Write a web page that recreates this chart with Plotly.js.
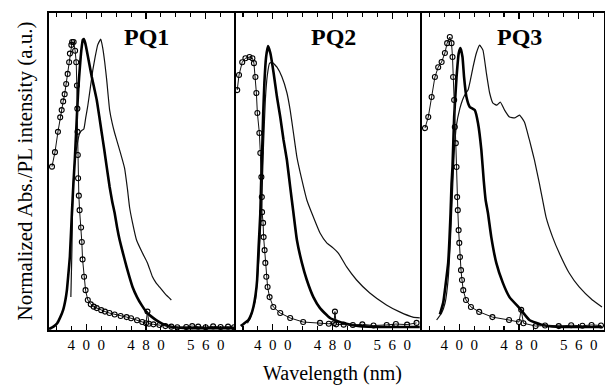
<!DOCTYPE html>
<html>
<head>
<meta charset="utf-8">
<script src="https://cdn.plot.ly/plotly-3.0.1.min.js"></script>
<style>html,body{margin:0;padding:0;background:#fff;}#chart{width:605px;height:385px;}</style>
</head>
<body>
<div id="chart"></div>
<script>
// ---------- data ----------
const panelTitles = ["PQ1", "PQ2", "PQ3"];
const tickValues = [400, 480, 560];
const tickLabels = ["4\u20020\u20020", "4\u20028\u20020", "5\u20026\u20020"];
const xTitle = "Wavelength (nm)";
const yTitle = "Normalized Abs./PL intensity (a.u.)";

// PQ1
const pq1AbsNm  = [354,358,362,365,367,369,371,373,375,377,378,380,381,383,385,386.5,387.5,388,388.3,388.6,389,390,391,393,394,395,397,399,402,406,410,414,420,425,431,438,446,454,460,468,475,480,482,484,490,498,506,514,522,534,542,550,560,570,580,590,598];
const pq1AbsVal = [0.56,0.61,0.68,0.73,0.755,0.785,0.81,0.845,0.88,0.92,0.95,0.98,0.99,0.99,0.96,0.92,0.84,0.76,0.68,0.6,0.52,0.46,0.41,0.35,0.30,0.24,0.18,0.134,0.10,0.085,0.077,0.072,0.065,0.06,0.055,0.05,0.045,0.041,0.037,0.03,0.024,0.02,0.06,0.018,0.016,0.014,0.01,0.008,0.006,0.007,0.01,0.008,0.006,0.009,0.007,0.008,0.006];
const pq1SolNm  = [350,356,361,365,369,372,374,376,378,380.7,382.7,384.7,387.3,389.3,391.3,393.3,395.3,396.7,398.7,400.7,404,407.3,410.7,414,417.3,420.7,424,427.3,431.3,434.7,438,441.3,444.7,449.3,454,458,462,468,474,479.3,484.7,491.3,498,506,515.3,530,551,575,598];
const pq1SolVal = [0.0,0.008,0.02,0.04,0.066,0.1,0.134,0.19,0.25,0.40,0.50,0.59,0.73,0.83,0.90,0.96,0.997,1.0,0.985,0.96,0.915,0.87,0.83,0.79,0.735,0.676,0.62,0.56,0.49,0.44,0.40,0.35,0.307,0.26,0.214,0.178,0.145,0.11,0.083,0.063,0.048,0.035,0.024,0.014,0.007,0.004,0.003,0.003,0.003];
const pq1FilmNm  = [379.3,380.7,382,384.7,388.7,391.3,394,396.7,399.3,402,405.3,408.7,412,415.3,419.3,422,424.7,427.3,431.3,434.7,438,444.7,451.3,455.3,458,462,467.3,475.3,482,488.7,493.3,498,506,514];
const pq1FilmVal = [0.11,0.27,0.47,0.58,0.65,0.676,0.685,0.69,0.73,0.77,0.83,0.893,0.94,0.98,1.0,0.97,0.92,0.86,0.755,0.71,0.676,0.617,0.555,0.48,0.42,0.366,0.307,0.262,0.228,0.18,0.16,0.145,0.12,0.1];

// PQ2
const pq2AbsNm  = [352.3,354.7,359,363.3,368.7,372.7,374.7,376.7,378,379.3,382,383.3,384.7,385.3,385.6,387,387.7,389,390,391.3,393,395.7,400.7,410,423.3,440.7,463.3,475,482,483.3,485,495,507.3,520,535,552.7,565,580,592.7];
const pq2AbsVal = [0.824,0.876,0.92,0.934,0.938,0.934,0.917,0.869,0.814,0.745,0.676,0.607,0.524,0.455,0.403,0.366,0.317,0.272,0.228,0.18,0.145,0.11,0.076,0.055,0.038,0.024,0.021,0.018,0.02,0.06,0.016,0.015,0.014,0.016,0.012,0.014,0.017,0.015,0.021];
const pq2SolNm  = [357,362,367.3,371,374,377,379,381,383.3,384.3,385.6,387,388.7,391,393.6,396.7,401.1,405.6,410,414.4,418.9,423.3,427.7,432.3,439,445.6,454.4,463.3,476.7,494,516.7,550,597];
const pq2SolVal = [0.01,0.02,0.031,0.05,0.076,0.12,0.169,0.283,0.40,0.50,0.60,0.731,0.848,0.938,0.976,0.952,0.883,0.80,0.731,0.652,0.583,0.49,0.40,0.307,0.228,0.169,0.11,0.072,0.038,0.021,0.01,0.007,0.007];
const pq2FilmNm  = [366,370,373.5,376.7,379.5,382,385.3,387.3,390,392.7,395.7,399.3,405.6,412.3,419,423.3,427.7,432.3,439,445.6,454.4,463.3,472.3,481.1,487.8,499,512.3,530,552.3,570,587.8,597];
const pq2FilmVal = [0.02,0.038,0.07,0.1,0.18,0.27,0.445,0.617,0.79,0.876,0.917,0.92,0.903,0.869,0.814,0.755,0.676,0.593,0.514,0.445,0.386,0.331,0.297,0.279,0.262,0.214,0.169,0.124,0.083,0.059,0.041,0.038];

// PQ3
const pq3AbsNm  = [354,358.4,362.9,367.3,371.7,376.3,380.7,383.7,387.3,389.6,390.9,391.7,393.1,394,395.3,396.3,397.1,398,399.1,400,400.9,402.3,403.6,405.3,409,415.6,426.7,444.4,466.7,480,483,486,502.3,515,533.3,550,565,577.3,590];
const pq3AbsVal = [0.693,0.731,0.80,0.869,0.903,0.921,0.952,0.986,1.007,0.986,0.938,0.869,0.79,0.697,0.641,0.559,0.455,0.41,0.341,0.297,0.248,0.203,0.169,0.134,0.10,0.076,0.059,0.041,0.031,0.024,0.066,0.02,0.01,0.012,0.01,0.013,0.011,0.014,0.012];
const pq3SolNm  = [374,378.4,381.5,385.1,388.3,389.6,390.9,393.1,396.3,399.3,401.6,404.3,406.4,409.6,414,420.7,425.1,429.6,432.7,435.3,438.4,442.9,449.6,458.4,467.3,480.7,494,511.7,530,556.3,592];
const pq3SolVal = [0.05,0.09,0.15,0.228,0.40,0.50,0.559,0.731,0.869,0.952,0.969,0.938,0.869,0.80,0.766,0.755,0.71,0.617,0.514,0.445,0.40,0.317,0.228,0.159,0.11,0.072,0.031,0.014,0.008,0.007,0.007];
const pq3FilmNm  = [369.6,376.3,381,385,388,390.5,393,396,400.7,404.3,407.3,411.7,415,418.4,422.9,427.3,431.7,436.3,440.7,445.1,450.4,454.9,460.7,467.3,474,480.7,487.3,494,500.7,507.3,511.7,516.3,525.1,534,547.3,560.7,578.4,591.3];
const pq3FilmVal = [0.031,0.055,0.09,0.17,0.30,0.45,0.60,0.70,0.76,0.79,0.807,0.824,0.86,0.903,0.952,0.979,0.962,0.883,0.814,0.779,0.772,0.783,0.755,0.731,0.728,0.738,0.714,0.652,0.583,0.503,0.445,0.386,0.317,0.262,0.193,0.145,0.10,0.076];

// ---------- drawing ----------
const FONT = '"Liberation Serif", "Times New Roman", serif';
const panels = [
  {abs:[pq1AbsNm,pq1AbsVal], sol:[pq1SolNm,pq1SolVal], film:[pq1FilmNm,pq1FilmVal]},
  {abs:[pq2AbsNm,pq2AbsVal], sol:[pq2SolNm,pq2SolVal], film:[pq2FilmNm,pq2FilmVal]},
  {abs:[pq3AbsNm,pq3AbsVal], sol:[pq3SolNm,pq3SolVal], film:[pq3FilmNm,pq3FilmVal]}
];
const traces = [];
panels.forEach((p, i) => {
  const xa = i === 0 ? 'x' : 'x' + (i + 1);
  const ya = i === 0 ? 'y' : 'y' + (i + 1);
  traces.push({x: p.film[0], y: p.film[1], xaxis: xa, yaxis: ya, mode: 'lines',
    line: {color: '#111', width: 1.2, shape: 'spline', smoothing: 0.4}, hoverinfo: 'skip'});
  traces.push({x: p.sol[0], y: p.sol[1], xaxis: xa, yaxis: ya, mode: 'lines',
    line: {color: '#000', width: 2.6, shape: 'spline', smoothing: 0.4}, hoverinfo: 'skip'});
  traces.push({x: p.abs[0], y: p.abs[1], xaxis: xa, yaxis: ya, mode: 'lines+markers',
    line: {color: '#111', width: 1},
    marker: {symbol: 'circle-open', size: 5, color: '#000', line: {width: 1.1, color: '#000'}},
    hoverinfo: 'skip'});
});

function xaxis(domain, range, anchor) {
  return {
    domain: domain, range: range, anchor: anchor,
    tickvals: tickValues, ticktext: tickLabels,
    ticks: 'inside', ticklen: 6, tickwidth: 1.3, tickcolor: '#000',
    minor: {tick0: 360, dtick: 20, ticks: 'inside', ticklen: 4, tickwidth: 1.1, tickcolor: '#000', showgrid: false},
    showline: true, linecolor: '#000', linewidth: 2, mirror: 'allticks',
    showgrid: false, zeroline: false,
    ticklabelstandoff: 0,
    tickfont: {family: FONT, size: 15, color: '#000'}
  };
}
function yaxis(anchor, mirror) {
  return {
    domain: [0, 1], range: [-0.0035, 1.09], anchor: anchor,
    showline: true, linecolor: '#000', linewidth: 1.6, mirror: mirror,
    ticks: '', showticklabels: false, showgrid: false, zeroline: false
  };
}
const d1 = 186.5 / 555, d2 = 373 / 555;
const layout = {
  width: 605, height: 385,
  margin: {l: 49, r: 1, t: 13, b: 55},
  paper_bgcolor: '#fff', plot_bgcolor: '#fff',
  showlegend: false,
  font: {family: FONT, color: '#000'},
  xaxis: xaxis([0, d1], [350, 600], 'y'),
  xaxis2: xaxis([d1, d2], [350, 600], 'y2'),
  xaxis3: xaxis([d2, 1], [350, 594], 'y3'),
  yaxis: yaxis('x', false), yaxis2: yaxis('x2', false), yaxis3: yaxis('x3', true),
  annotations: [
    {text: yTitle, textangle: -90, xref: 'paper', yref: 'paper', x: -0.045, y: 0.5,
     xanchor: 'center', yanchor: 'middle',
     showarrow: false, font: {family: FONT, size: 21, color: '#000'}},
    {text: xTitle, xref: 'paper', yref: 'paper', x: 0.51, y: -0.136,
     xanchor: 'center', yanchor: 'middle',
     showarrow: false, font: {family: FONT, size: 20, color: '#000'}}
  ].concat(panelTitles.map((t, i) => ({
    text: '<b>' + t + '</b>', xref: i === 0 ? 'x' : 'x' + (i + 1), yref: 'paper',
    x: 481, y: 0.924, xanchor: 'center', yanchor: 'middle',
    showarrow: false, font: {family: FONT, size: 24, color: '#000'}
  })))
};
Plotly.newPlot('chart', traces, layout, {staticPlot: true, displayModeBar: false});
</script>
</body>
</html>
